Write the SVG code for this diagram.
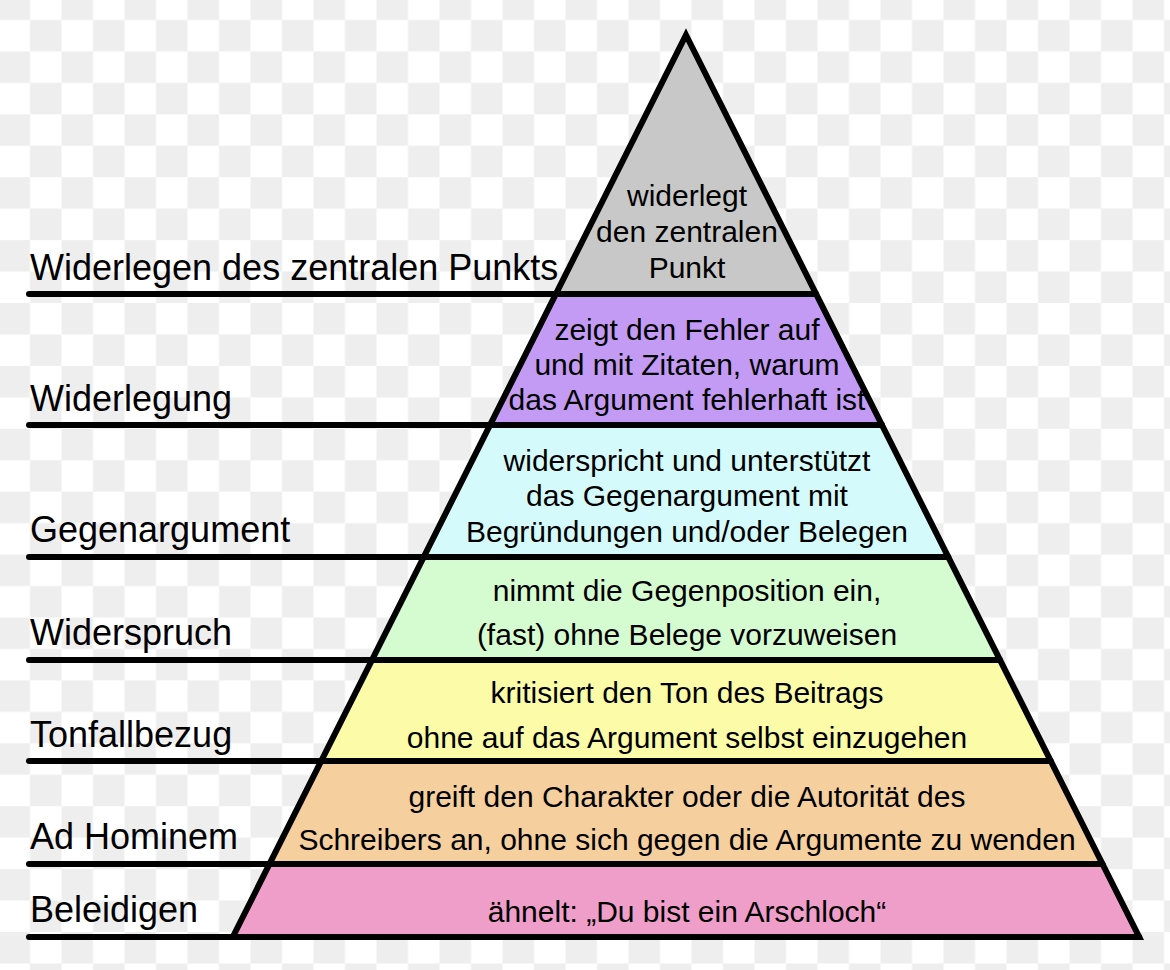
<svg xmlns="http://www.w3.org/2000/svg" width="1170" height="970" viewBox="0 0 1170 970">
  <defs>
    <pattern id="checker" patternUnits="userSpaceOnUse" x="-1.5" y="-11.5" width="63" height="62.9">
      <rect width="63" height="62.9" fill="#ffffff"/>
      <rect width="31.5" height="31.45" fill="#eeeeee"/>
      <rect x="31.5" y="31.45" width="31.5" height="31.45" fill="#eeeeee"/>
    </pattern>
  </defs>
  <style>
    .lbl { font-family: "Liberation Sans", Arial, sans-serif; font-size: 36px; fill: #000; }
    .txt { font-family: "Liberation Sans", Arial, sans-serif; font-size: 30px; fill: #000; text-anchor: middle; }
    .sep { stroke: #000; stroke-width: 6; stroke-linecap: round; fill: none; }
    .band { stroke: none; }
  </style>
  <rect width="1170" height="970" fill="url(#checker)"/>

  <g id="level7">
    <polygon class="band" fill="#c8c8c8" points="686,35 816.1,294 555.9,294"/>
    <text class="txt" x="687" y="206">widerlegt</text>
    <text class="txt" x="687" y="242">den zentralen</text>
    <text class="txt" x="687" y="278">Punkt</text>
    <text class="lbl" x="30" y="280">Widerlegen des zentralen Punkts</text>
  </g>
  <g id="level6">
    <polygon class="band" fill="#c39bf5" points="555.9,294 816.1,294 882,425 490,425"/>
    <text class="txt" x="687" y="340">zeigt den Fehler auf</text>
    <text class="txt" x="687" y="375">und mit Zitaten, warum</text>
    <text class="txt" x="687" y="410">das Argument fehlerhaft ist</text>
    <text class="lbl" x="30" y="411">Widerlegung</text>
  </g>
  <g id="level5">
    <polygon class="band" fill="#d4fafc" points="490,425 882,425 948.3,557 423.7,557"/>
    <text class="txt" x="687" y="471">widerspricht und unterstützt</text>
    <text class="txt" x="687" y="506">das Gegenargument mit</text>
    <text class="txt" x="687" y="542">Begründungen und/oder Belegen</text>
    <text class="lbl" x="30" y="542">Gegenargument</text>
  </g>
  <g id="level4">
    <polygon class="band" fill="#d5fbd0" points="423.7,557 948.3,557 1000,660 372,660"/>
    <text class="txt" x="687" y="601">nimmt die Gegenposition ein,</text>
    <text class="txt" x="687" y="645">(fast) ohne Belege vorzuweisen</text>
    <text class="lbl" x="30" y="645">Widerspruch</text>
  </g>
  <g id="level3">
    <polygon class="band" fill="#fbfba8" points="372,660 1000,660 1050.7,761 321.3,761"/>
    <text class="txt" x="687" y="703">kritisiert den Ton des Beitrags</text>
    <text class="txt" x="687" y="748">ohne auf das Argument selbst einzugehen</text>
    <text class="lbl" x="30" y="747">Tonfallbezug</text>
  </g>
  <g id="level2">
    <polygon class="band" fill="#f5cf9e" points="321.3,761 1050.7,761 1102.5,864 269.5,864"/>
    <text class="txt" x="687" y="807">greift den Charakter oder die Autorität des</text>
    <text class="txt" x="687" y="850">Schreibers an, ohne sich gegen die Argumente zu wenden</text>
    <text class="lbl" x="30" y="849">Ad Hominem</text>
  </g>
  <g id="level1">
    <polygon class="band" fill="#ef9dc9" points="269.5,864 1102.5,864 1139.2,937 232.8,937"/>
    <text class="txt" x="687" y="922">ähnelt: „Du bist ein Arschloch“</text>
    <text class="lbl" x="30" y="922">Beleidigen</text>
  </g>

  <g id="connectors">
    <line class="sep" x1="29" y1="294" x2="816.1" y2="294"/>
    <line class="sep" x1="29" y1="425" x2="882" y2="425"/>
    <line class="sep" x1="29" y1="557" x2="948.3" y2="557"/>
    <line class="sep" x1="29" y1="660" x2="1000" y2="660"/>
    <line class="sep" x1="29" y1="761" x2="1050.7" y2="761"/>
    <line class="sep" x1="29" y1="864" x2="1102.5" y2="864"/>
    <line class="sep" x1="29" y1="937" x2="1139.2" y2="937"/>
    <polygon points="686,35 1139.2,937 232.8,937" fill="none" stroke="#000" stroke-width="6" stroke-linejoin="miter" stroke-miterlimit="10"/>
  </g>
</svg>
